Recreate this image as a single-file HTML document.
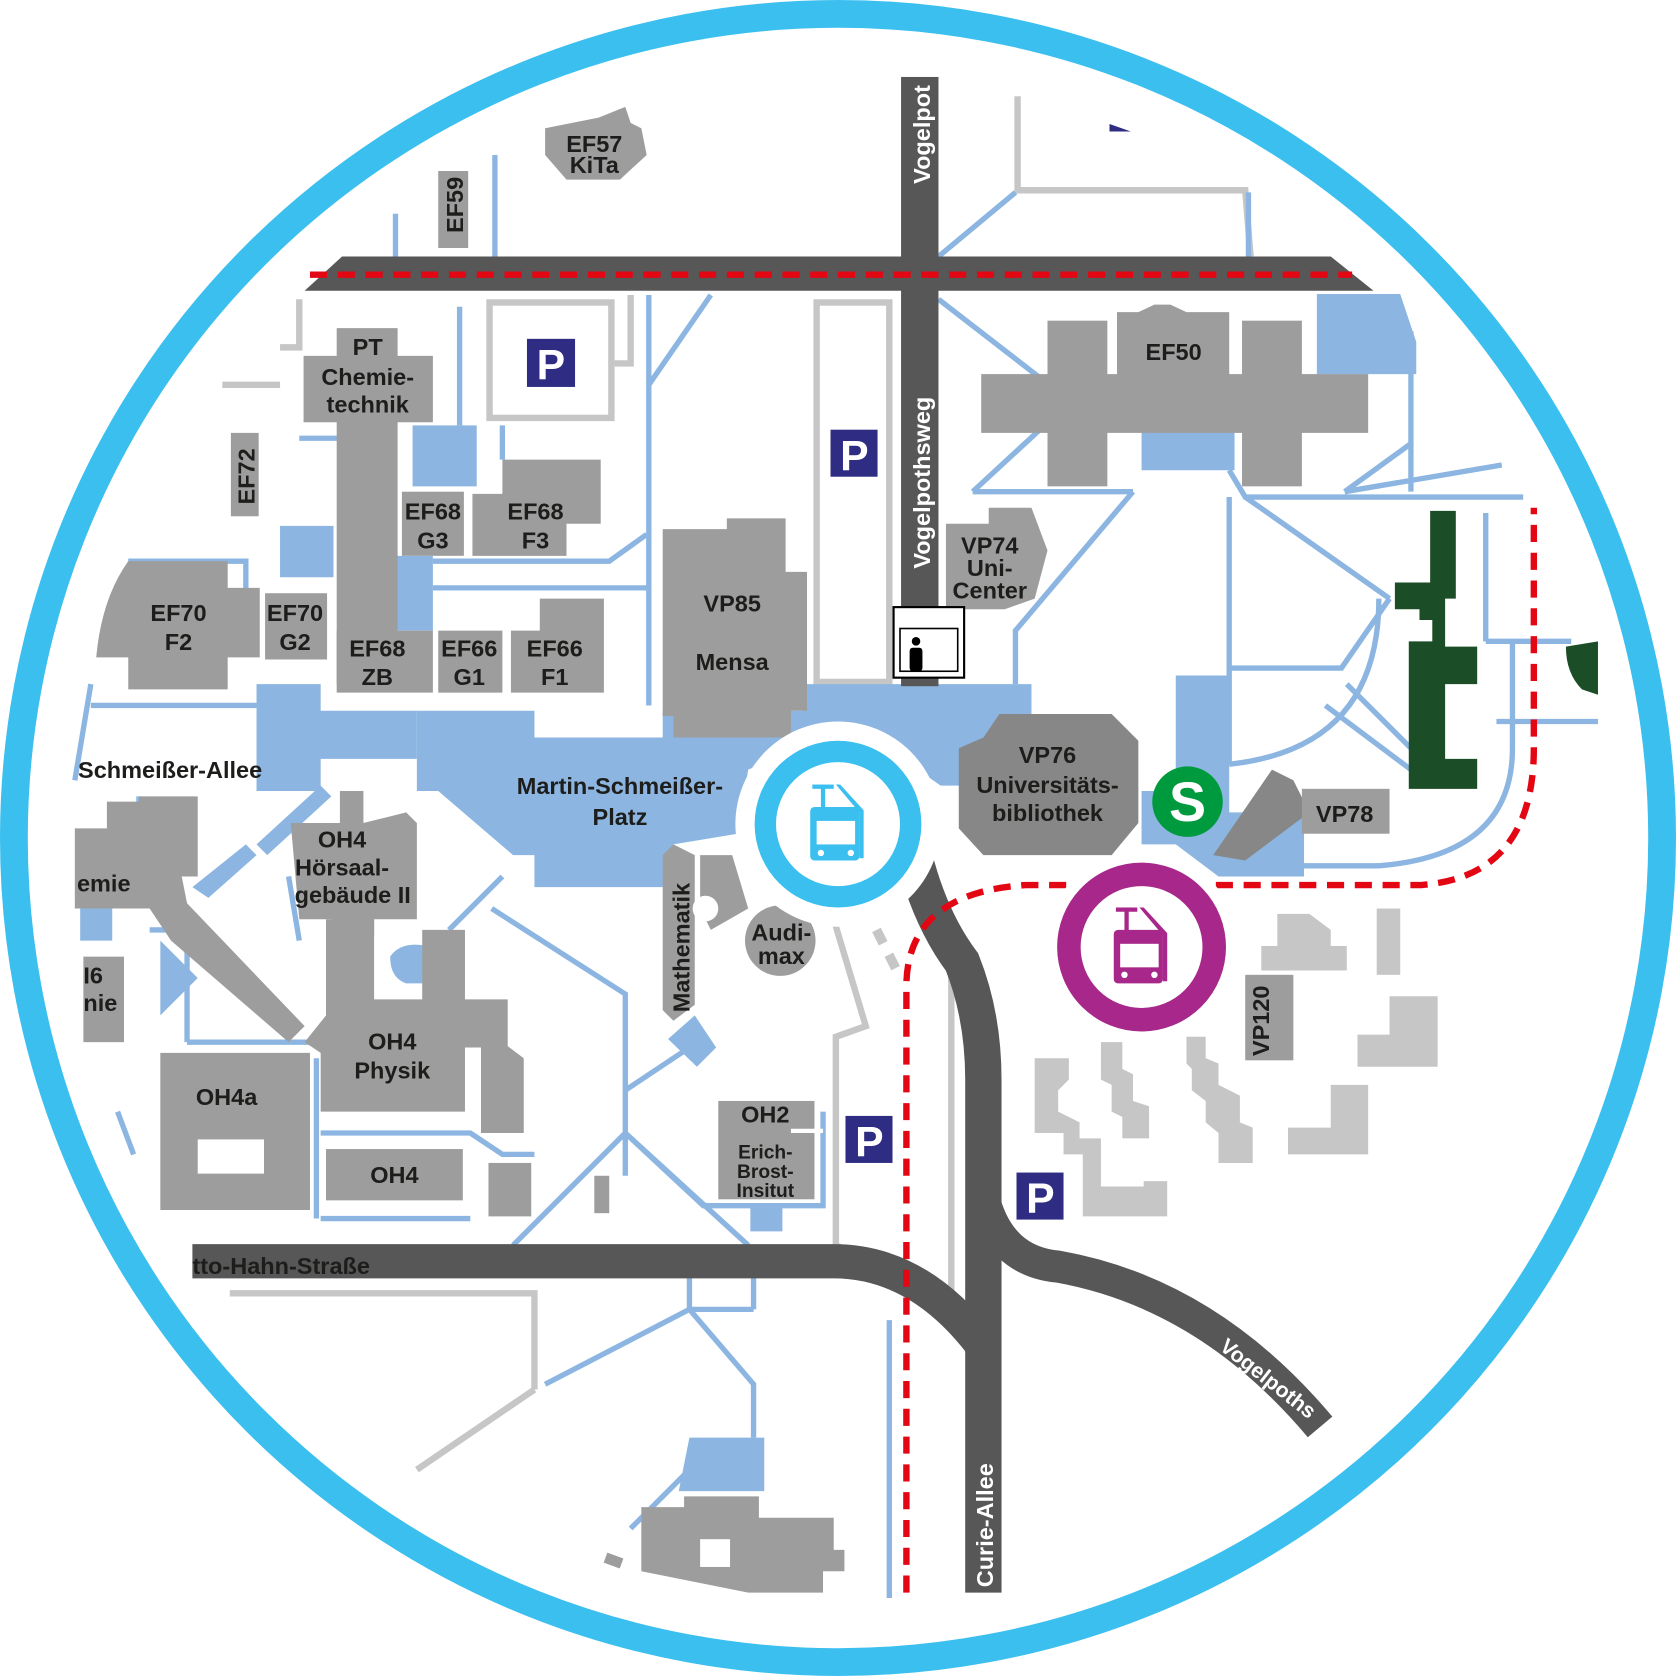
<!DOCTYPE html>
<html><head><meta charset="utf-8"><style>
html,body{margin:0;padding:0;background:#fff}
svg{display:block}
text{font-family:"Liberation Sans",sans-serif;font-weight:bold;fill:#1d1d1b;font-size:22px}
</style></head><body>
<svg width="1676" height="1676" viewBox="0 0 1568 1568" xmlns="http://www.w3.org/2000/svg">
<defs><clipPath id="c"><circle cx="784" cy="784" r="760"/></clipPath></defs>
<g clip-path="url(#c)">
<g fill="none" stroke="#c6c6c6" stroke-width="6">
<path d="M952 90 V178 H1165 L1170 240"/>
<rect x="458" y="283" width="114" height="108"/>
<rect x="764" y="283" width="68" height="355"/>
<path d="M590 276 V340 H575"/>
<path d="M280 280 V325 H262 M262 360 H208"/>
<path d="M780 860 L810 960 L782 970 V1165 L890 1215 L890 900"/>
<path d="M215 1210 H500 V1300 M390 1375 L500 1300"/>
<path d="M820 870 L840 910" stroke-dasharray="14 12" stroke-width="9"/>
</g>
<g fill="none" stroke="#8cb6e1" stroke-width="5">
<path d="M370 200 V240 M463 145 V240 M1168 180 V240"/>
<path d="M878 240 L950 180"/>
<path d="M430 287 V398 M607 276 V660 M607 360 L665 276"/>
<path d="M878 280 L975 355 M1240 275 V350 M1320 310 V460"/>
<path d="M910 460 H1060 M1060 460 L950 590 V640 M910 460 L975 400"/>
<path d="M1150 440 L1165 465 H1425 M1165 465 L1300 560 M1258 460 L1320 415 M1258 460 L1405 435"/>
<path d="M1150 465 V715 M1150 625 H1255 L1300 560 M1150 715 Q1290 700 1290 560"/>
<path d="M1240 660 L1320 720 M1260 640 L1320 700 M1390 600 H1470 M1390 480 V600 M1415 600 V700 Q1415 800 1290 810 H1150"/>
<path d="M1400 675 H1495"/>
<path d="M120 525 H230 V560 M85 660 H240 M85 640 L70 730"/>
<path d="M405 550 H605 M405 525 H570 L605 500 M470 398 V430"/>
<path d="M280 410 H318 V500"/>
<path d="M460 850 L585 930 V1060 L700 1165 M585 930 V1100 M585 1060 L480 1165 M585 1020 L660 970 M470 820 L420 870 M585 1060 L658 1128 H770 V1040"/>
<path d="M300 1060 H440 L470 1080 H500 M300 1140 H440 M296 990 V1140"/>
<path d="M645 1195 V1225 L705 1295 V1345 M645 1225 L510 1295 M645 1225 H705 M705 1195 V1225 M590 1430 L660 1360"/>
<path d="M832 1235 V1495"/>
<path d="M130 745 V830 L175 875 V975 M140 870 H175 M270 820 L280 880 M175 975 H290"/>
<path d="M110 1040 L125 1080"/>
</g>
<g fill="#8cb6e1">
<path d="M240 640 H300 V665 H390 V710 H300 V740 H240 Z"/>
<path d="M390 665 H500 V690 H620 V665 H750 V640 H965 V735 H880 L830 700 L750 700 L700 720 L690 780 L630 790 L620 830 H500 V800 H480 L410 740 H390 Z"/>
<path d="M262 492 H312 V540 H262 Z"/>
<path d="M370 520 H405 V590 H370 Z"/>
<path d="M386 398 H446 V455 H386 Z"/>
<path d="M1100 632 H1150 V760 H1220 V820 H1140 L1100 790 H1068 V740 H1100 Z"/>
<path d="M1068 400 H1155 V440 H1068 Z"/>
<path d="M1232 275 H1310 L1325 320 V350 H1232 Z"/>
<path d="M645 1345 H715 V1395 H635 Z"/>
<path d="M702 1130 H732 V1152 H702 Z"/>
<path d="M625 972 L650 950 L670 980 L652 998 Z"/>
<path d="M365 895 Q375 880 400 885 V920 H380 Q365 915 365 895Z"/>
<path d="M75 840 H105 V880 H75Z M150 880 L185 915 L150 950Z"/>
<path d="M180 830 L230 790 L240 800 L195 840Z M240 790 L300 735 L310 745 L250 800Z"/>
</g>
<path d="M320 240 H1245 L1285 272 H285 Z" fill="#575757"/>
<rect x="843" y="72" width="35" height="570" fill="#575757"/>
<path d="M855 800 Q870 860 900 900 Q920 950 920 1010 V1490" fill="none" stroke="#575757" stroke-width="34"/>
<path d="M180 1180 H780 Q860 1180 920 1260" fill="none" stroke="#575757" stroke-width="32"/>
<path d="M920 1120 Q935 1180 990 1185 Q1130 1210 1235 1335" fill="none" stroke="#575757" stroke-width="30"/>
<path d="M290 257 H1265" stroke="#e30613" stroke-width="6" stroke-dasharray="16 10" fill="none"/>
<path d="M848 1490 V920 Q850 835 960 828 H1330 Q1435 820 1435 700 V475" stroke="#e30613" stroke-width="6" stroke-dasharray="16 10" fill="none"/>
<g fill="#9d9d9d">
<path d="M510 120 L560 110 L585 100 L590 115 L600 120 L605 145 L580 168 L530 168 L510 145 Z"/>
<rect x="410" y="160" width="28" height="72"/>
<path d="M315 307 H372 V333 H405 V395 H372 V640 H315 V395 H284 V333 H315Z"/>
<rect x="216" y="405" width="26" height="78"/>
<rect x="376" y="460" width="58" height="60"/>
<path d="M470 430 H562 V490 H530 V520 H442 V462 H470Z"/>
<path d="M620 495 H680 V485 H735 V535 H755 V665 H740 V690 H630 V670 H620Z"/>
<path d="M120 525 H213 V550 H243 V615 H213 V645 H120 V615 H90 Q95 560 120 525Z"/>
<rect x="248" y="555" width="58" height="62"/>
<path d="M315 590 H405 V648 H315Z"/>
<rect x="410" y="590" width="60" height="58"/>
<path d="M505 560 H565 V648 H478 V590 H505Z"/>
<path d="M885 490 H925 V475 H965 L980 515 L968 560 L940 570 L885 570Z"/>
<rect x="918" y="350" width="362" height="55"/>
<rect x="980" y="300" width="56" height="155"/>
<rect x="1162" y="300" width="56" height="155"/>
<path d="M1045 292 L1065 292 L1080 285 L1095 285 L1110 292 L1150 292 V355 H1045Z"/>
<path d="M935 668 H1040 L1065 693 V770 L1040 800 H920 L897 775 V700 L920 690 Z" fill="#878787"/>
<path d="M1135 800 L1190 720 L1210 730 L1225 760 L1165 805 Z" fill="#878787"/>
<rect x="1218" y="738" width="82" height="42"/>
<path d="M70 775 H100 V750 H130 V745 H185 V820 H170 L175 845 L285 960 L270 975 L160 880 L140 850 H70Z"/>
<rect x="78" y="895" width="38" height="80"/>
<path d="M272 770 H318 V740 H340 V770 L360 765 L380 760 L390 770 V860 H350 V875 H310 V860 H280 Z"/>
<path d="M305 860 H350 V935 H395 V870 H435 V935 H475 V980 L435 980 V1040 H300 V985 L285 975 L305 950 Z"/>
<path d="M450 980 L470 975 L490 990 V1060 H450Z"/>
<path d="M150 985 H290 V1132 H150 Z"/>
<rect x="185" y="1066" width="62" height="32" fill="#fff"/>
<rect x="305" y="1075" width="128" height="48"/>
<rect x="457" y="1088" width="40" height="50"/>
<rect x="556" y="1100" width="14" height="35"/>
<path d="M630 790 L650 800 V940 L630 955 L620 945 V800Z"/>
<path d="M655 800 L685 800 L700 850 L665 870 L655 850Z"/>
<circle cx="730" cy="880" r="33"/>
<circle cx="660" cy="850" r="12" fill="#fff"/>
<path d="M600 1410 H640 V1400 H710 V1420 H780 V1450 H790 V1470 H770 V1490 H700 L600 1470 Z"/>
<rect x="566" y="1455" width="16" height="10" transform="rotate(20 574 1460)"/>
<rect x="1165" y="912" width="45" height="80"/>
<rect x="655" y="1440" width="28" height="26" fill="#fff"/>
</g>
<rect x="672" y="1030" width="90" height="92" fill="#9d9d9d"/>
<path d="M740 1058 H770" stroke="#fff" stroke-width="4"/>
<g fill="#c6c6c6">
<path d="M1195 855 H1225 L1245 870 V885 H1260 V908 H1180 V885 H1195Z"/>
<rect x="1288" y="850" width="22" height="62"/>
<path d="M1300 932 H1345 V998 H1270 V968 H1300Z" />
<path d="M1245 1015 H1280 V1080 H1205 V1055 H1245Z"/>
<path d="M968 990 H1000 V1010 L990 1020 V1040 L1010 1050 V1065 H1030 V1110 H1070 V1105 H1092 V1138 H1013 V1080 H995 V1060 H968Z"/>
<path d="M1030 975 H1050 V1000 L1060 1005 V1030 L1075 1035 V1065 H1050 V1045 L1040 1040 V1015 L1030 1010Z"/>
<path d="M1110 970 H1128 V990 L1140 995 V1015 L1160 1025 V1050 L1172 1055 V1088 H1140 V1060 L1128 1050 V1030 L1115 1020 V1000 L1110 995Z"/>
</g>
<path d="M1338 478 H1362 V560 H1352 V605 H1382 V640 H1352 V710 H1382 V738 H1318 V600 H1340 V580 H1328 V570 H1305 V545 H1338Z" fill="#1b4d26"/>
<path d="M1465 605 L1495 600 V650 L1480 645 Q1465 630 1465 605Z" fill="#1b4d26"/>
<g fill="#2e2d83"><rect x="493" y="317" width="45" height="45"/><rect x="777" y="402" width="44" height="44"/><rect x="791" y="1044" width="44" height="44"/><rect x="951" y="1097" width="44" height="44"/>
<path d="M1038 116 L1058 123 H1038Z"/></g>
<g><text x="502" y="355" style="fill:#fff;font-size:40px">P</text><text x="786" y="440" style="fill:#fff;font-size:40px">P</text><text x="800" y="1082" style="fill:#fff;font-size:40px">P</text><text x="960" y="1135" style="fill:#fff;font-size:40px">P</text></g>
<rect x="836" y="568" width="66" height="66" fill="#fff" stroke="#000" stroke-width="2"/>
<rect x="842" y="588" width="54" height="40" fill="none" stroke="#000" stroke-width="1.5"/>
<circle cx="857" cy="600" r="4" fill="#000"/><rect x="851" y="606" width="12" height="22" rx="3" fill="#000"/>
<circle cx="784" cy="771" r="96" fill="#fff"/>
<circle cx="784" cy="771" r="68" fill="none" stroke="#3bbfef" stroke-width="20"/>
<g fill="#3bbfef"><rect x="760" y="734" width="20" height="4"/><rect x="768" y="734" width="4" height="22"/><rect x="758" y="755" width="46" height="50" rx="4"/><path d="M782 734 H786 L808 758 V803 H804 V760Z"/></g>
<rect x="764" y="768" width="36" height="22" fill="#fff"/><circle cx="768" cy="798" r="3" fill="#fff"/><circle cx="796" cy="798" r="3" fill="#fff"/>
<circle cx="1068" cy="886" r="90" fill="#fff"/>
<circle cx="1068" cy="886" r="68" fill="none" stroke="#a7288a" stroke-width="22"/>
<g fill="#a7288a"><rect x="1044" y="849" width="20" height="4"/><rect x="1052" y="849" width="4" height="22"/><rect x="1042" y="870" width="46" height="50" rx="4"/><path d="M1066 849 H1070 L1092 873 V918 H1088 V875Z"/></g>
<rect x="1048" y="883" width="36" height="22" fill="#fff"/><circle cx="1052" cy="912" r="3" fill="#fff"/><circle cx="1080" cy="912" r="3" fill="#fff"/>
<circle cx="1111" cy="750" r="33" fill="#009a3e"/>
<text x="1111" y="768" text-anchor="middle" style="fill:#fff;font-size:52px">S</text>
<g text-anchor="middle">
<text x="556" y="142">EF57</text><text x="556" y="162">KiTa</text>
<text x="344" y="332">PT</text><text x="344" y="360">Chemie-</text><text x="344" y="386">technik</text>
<text x="405" y="486">EF68</text><text x="405" y="513">G3</text>
<text x="501" y="486">EF68</text><text x="501" y="513">F3</text>
<text x="685" y="572">VP85</text><text x="685" y="627">Mensa</text>
<text x="167" y="581">EF70</text><text x="167" y="608">F2</text>
<text x="276" y="581">EF70</text><text x="276" y="608">G2</text>
<text x="353" y="614">EF68</text><text x="353" y="641">ZB</text>
<text x="439" y="614">EF66</text><text x="439" y="641">G1</text>
<text x="519" y="614">EF66</text><text x="519" y="641">F1</text>
<text x="1098" y="337">EF50</text>
<text x="926" y="518">VP74</text><text x="926" y="539">Uni-</text><text x="926" y="560">Center</text>
<text x="980" y="714">VP76</text><text x="980" y="742">Universitäts-</text><text x="980" y="768">bibliothek</text>
<text x="1258" y="769">VP78</text>
<text x="580" y="743">Martin-Schmeißer-</text><text x="580" y="772">Platz</text>
<text x="320" y="793">OH4</text><text x="320" y="819">Hörsaal-</text><text x="330" y="845">gebäude II</text>
<text x="367" y="982">OH4</text><text x="367" y="1009">Physik</text>
<text x="212" y="1034">OH4a</text>
<text x="369" y="1107">OH4</text>
<text x="731" y="880">Audi-</text><text x="731" y="902">max</text>
<text x="716" y="1050">OH2</text>
<text x="716" y="1084" style="font-size:18px">Erich-</text><text x="716" y="1102" style="font-size:18px">Brost-</text><text x="716" y="1120" style="font-size:18px">Insitut</text>
</g>
<text x="73" y="728">Schmeißer-Allee</text>
<text x="72" y="834">emie</text>
<text x="78" y="920">I6</text><text x="78" y="946">nie</text>
<text x="180" y="1192">tto-Hahn-Straße</text>
<text transform="translate(238,472) rotate(-90)">EF72</text>
<text transform="translate(433,218) rotate(-90)">EF59</text>
<text transform="translate(870,172) rotate(-90)" style="fill:#fff">Vogelpot</text>
<text transform="translate(870,532) rotate(-90)" style="fill:#fff">Vogelpothsweg</text>
<text transform="translate(645,947) rotate(-90)">Mathematik</text>
<text transform="translate(1187,988) rotate(-90)">VP120</text>
<text transform="translate(929,1485) rotate(-90)" style="fill:#fff">Curie-Allee</text>
<text transform="translate(1140,1262) rotate(38)" style="fill:#fff;font-size:20px">Vogelpoths</text>
</g>
<circle cx="784" cy="784" r="771" fill="none" stroke="#3bbfef" stroke-width="26"/>
</svg>
</body></html>
